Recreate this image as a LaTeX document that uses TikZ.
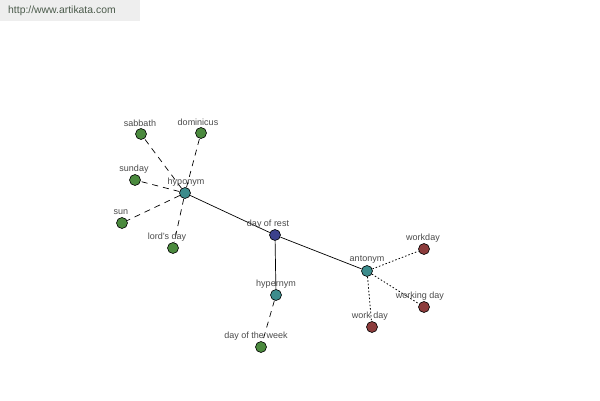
\documentclass[tikz,border=0pt]{standalone}
\usepackage{fontspec}
\setmainfont{Liberation Sans}
\definecolor{cgreen}{HTML}{4B8A3E}
\definecolor{cteal}{HTML}{3C8C8C}
\definecolor{cblue}{HTML}{3C418C}
\definecolor{cred}{HTML}{8C3C3C}
\definecolor{ctext}{HTML}{4A4A4A}
\definecolor{wmbg}{HTML}{EEEEEE}
\definecolor{wmtext}{HTML}{4A5A4A}
\tikzset{
  dot/.style={circle,draw=black,line width=0.6pt,minimum size=11pt,inner sep=0pt},
  gdot/.style={dot,fill=cgreen},
  tdot/.style={dot,fill=cteal},
  bdot/.style={dot,fill=cblue},
  rdot/.style={dot,fill=cred},
  lbl/.style={font=\fontsize{9}{10}\selectfont,text=ctext,inner sep=0pt},
  rel/.style={line width=0.7pt,black},
  dashrel/.style={line width=0.7pt,black,dash pattern=on 6pt off 5pt},
  dotrel/.style={line width=0.8pt,black,dash pattern=on 1.5pt off 2pt},
}
\begin{document}
\begin{tikzpicture}[x=1pt,y=-1pt]
\useasboundingbox (0,0) rectangle (600,400);
\fill[wmbg] (0,0) rectangle (140,21);
\node[anchor=west,font=\fontsize{10.4}{12}\selectfont,text=wmtext,inner sep=0pt] (wm) at (8,11) {http://www.artikata.com};
% nodes
\node[gdot] (sabbath) at (141,134) {};
\node[gdot] (dominicus) at (201,133) {};
\node[gdot] (sunday) at (135,180) {};
\node[tdot] (hyponym) at (185,193) {};
\node[gdot] (sun) at (122,223) {};
\node[gdot] (lordsday) at (173,248) {};
\node[bdot] (rest) at (275,235) {};
\node[tdot] (hypernym) at (276,295) {};
\node[gdot] (week) at (261,347) {};
\node[tdot] (antonym) at (367,271) {};
\node[rdot] (workday) at (424,249) {};
\node[rdot] (workingday) at (424,307) {};
\node[rdot] (workday2) at (372,327) {};
% connectors
\draw[rel] (hyponym) -- (rest);
\draw[rel] (rest) -- (antonym);
\draw[rel] (rest) -- (hypernym);
\draw[dashrel] (hyponym) -- (sabbath);
\draw[dashrel] (hyponym) -- (dominicus);
\draw[dashrel] (hyponym) -- (sunday);
\draw[dashrel] (hyponym) -- (sun);
\draw[dashrel] (hyponym) -- (lordsday);
\draw[dashrel] (hypernym) -- (week);
\draw[dotrel] (antonym) -- (workday);
\draw[dotrel] (antonym) -- (workingday);
\draw[dotrel] (antonym) -- (workday2);
% labels
\node[lbl] (l1) at (140,123) {sabbath};
\node[lbl] (l2) at (198,122) {dominicus};
\node[lbl] (l3) at (134,169) {sunday};
\node[lbl] (l4) at (186,182) {hyponym};
\node[lbl] (l5) at (121,212) {sun};
\node[lbl] (l6) at (167,237) {lord's day};
\node[lbl] (l7) at (268,224) {day of rest};
\node[lbl] (l8) at (276,284) {hypernym};
\node[lbl] (l9) at (256,336) {day of the week};
\node[lbl] (l10) at (367,260) {antonym};
\node[lbl] (l11) at (423,238) {workday};
\node[lbl] (l12) at (420,296) {working day};
\node[lbl] (l13) at (370,316) {work day};
\end{tikzpicture}
\end{document}
